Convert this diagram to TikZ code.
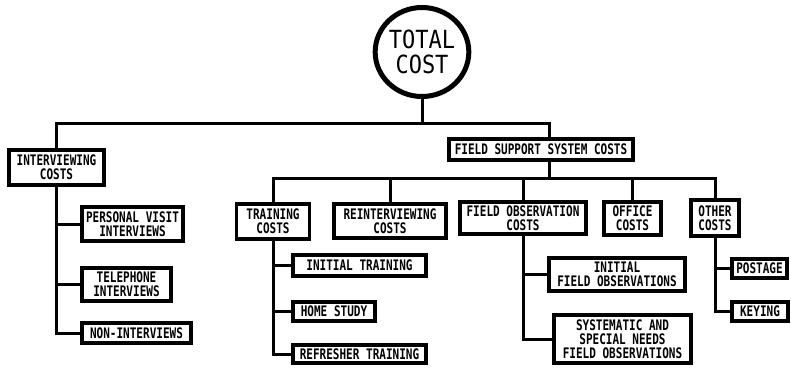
\documentclass[tikz,border=0pt]{standalone}
\usepackage{fontspec}
\usetikzlibrary{shapes.geometric}
\newfontfamily\chartfont[FakeStretch=0.76]{DejaVu Sans Mono}
\newfontfamily\headfont[FakeStretch=0.88]{DejaVu Sans Mono}

\begin{document}
\begin{tikzpicture}[x=1pt, y=-1pt,
  every node/.style={font=\chartfont\bfseries\fontsize{14.5}{14}\selectfont, align=center},
  costbox/.style={draw, line width=3.5pt, inner sep=1pt},
  link/.style={line width=3pt}]
\useasboundingbox (0,0) rectangle (791,367);
\node[draw, ellipse, line width=5pt, minimum width=79, minimum height=89, inner sep=0pt, font=\headfont\fontsize{25}{25}\selectfont] (total) at (422,52) {TOTAL\\COST};
% second level
\node[costbox, minimum width=95, minimum height=35] (intv) at (56.5,167.5) {INTERVIEWING\\COSTS};
\node[costbox, minimum width=184, minimum height=21] (fssc) at (541,149.5) {FIELD SUPPORT SYSTEM COSTS};
% interviewing branch
\node[costbox, minimum width=101, minimum height=34] (pv) at (132.5,224) {PERSONAL VISIT\\INTERVIEWS};
\node[costbox, minimum width=89, minimum height=33] (tel) at (126.5,284.5) {TELEPHONE\\INTERVIEWS};
\node[costbox, minimum width=109, minimum height=20] (nonint) at (136.5,333) {NON-INTERVIEWS};
% field support branch
\node[costbox, minimum width=73, minimum height=35] (train) at (273,221.5) {TRAINING\\COSTS};
\node[costbox, minimum width=112, minimum height=34] (reint) at (390,221) {REINTERVIEWING\\COSTS};
\node[costbox, minimum width=126, minimum height=32] (fobs) at (523,218) {FIELD OBSERVATION\\COSTS};
\node[costbox, minimum width=57, minimum height=33] (office) at (632.5,218.5) {OFFICE\\COSTS};
\node[costbox, minimum width=48, minimum height=36] (other) at (715,218) {OTHER\\COSTS};
% third level
\node[costbox, minimum width=133, minimum height=21] (inittr) at (359.5,265.5) {INITIAL TRAINING};
\node[costbox, minimum width=82, minimum height=19] (home) at (334,311.5) {HOME STUDY};
\node[costbox, minimum width=133, minimum height=18] (refr) at (359.5,354) {REFRESHER TRAINING};
\node[costbox, minimum width=136, minimum height=33] (initfo) at (617,274.5) {INITIAL\\FIELD OBSERVATIONS};
\node[costbox, minimum width=137, minimum height=48] (sysfo) at (622.5,339) {SYSTEMATIC AND\\SPECIAL NEEDS\\FIELD OBSERVATIONS};
\node[costbox, minimum width=55, minimum height=19] (postage) at (759.5,268.5) {POSTAGE};
\node[costbox, minimum width=56, minimum height=19] (keying) at (760,311.5) {KEYING};
% connectors
\coordinate (bus1) at (0,123);
\coordinate (bus2) at (0,178);
\coordinate (fsdrop) at (549,0);
\draw[link] (total.south) -- (total.south |- bus1);
\draw[link] (intv.north) |- (bus1 -| fsdrop) -- (fsdrop |- fssc.north);
\draw[link] (fsdrop |- fssc.south) -- (fsdrop |- bus2);
\draw[link] (train.north) |- (bus2 -| other.north) -- (other.north);
\foreach \n in {reint, fobs, office}
  \draw[link] (\n.north) -- (\n.north |- bus2);
\draw[link] (intv.south) |- (nonint.west);
\foreach \n in {pv, tel}
  \draw[link] (intv.south |- \n.west) -- (\n.west);
\draw[link] (train.south) |- (refr.west);
\foreach \n in {inittr, home}
  \draw[link] (train.south |- \n.west) -- (\n.west);
\draw[link] (fobs.south) |- (sysfo.west);
\draw[link] (fobs.south |- initfo.west) -- (initfo.west);
\draw[link] (other.south) |- (keying.west);
\draw[link] (other.south |- postage.west) -- (postage.west);
\end{tikzpicture}
\end{document}
